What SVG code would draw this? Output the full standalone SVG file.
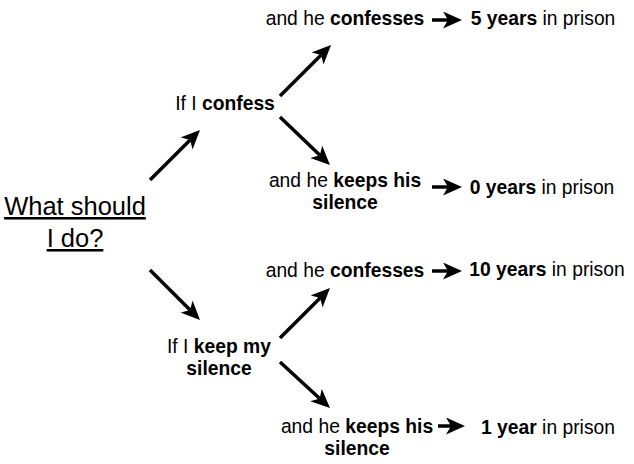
<svg xmlns="http://www.w3.org/2000/svg" width="634" height="464" viewBox="0 0 634 464">
<defs>
<marker id="ah" viewBox="0 0 19 17" refX="5" refY="8.5" markerWidth="19" markerHeight="17" markerUnits="userSpaceOnUse" orient="auto">
<path d="M0,0 L19,8.5 L0,17 L5,8.5 Z" fill="#000"/>
</marker>
</defs>
<style>
text{font-family:"Liberation Sans",Arial,Helvetica,sans-serif;font-size:19.3px;fill:#000;text-anchor:middle}
.b{font-weight:bold}
.big{font-size:25.5px;text-decoration:underline}
.c line{stroke:#000;stroke-width:3.5;marker-end:url(#ah)}
</style>
<rect width="634" height="464" fill="#fff"/>
<g class="c" id="connectors">
<line x1="150" y1="180" x2="190.1" y2="139.9"/>
<line x1="150" y1="270" x2="190.1" y2="310.1"/>
<line x1="280" y1="96" x2="321.1" y2="54.9"/>
<line x1="280" y1="117" x2="319.9" y2="155.3"/>
<line x1="280" y1="338" x2="320.1" y2="297.9"/>
<line x1="280" y1="362" x2="319.7" y2="398.5"/>
<line x1="432" y1="20" x2="448" y2="20"/>
<line x1="432" y1="187" x2="448" y2="187"/>
<line x1="432" y1="271" x2="448" y2="271"/>
<line x1="438" y1="426" x2="451" y2="426"/>
</g>
<g id="root"><text class="big" x="75" y="215">What should</text><text class="big" x="75" y="247">I do?</text></g>
<g id="confess"><text x="225" y="110">If I <tspan class="b">confess</tspan></text></g>
<g id="silence"><text x="219" y="353">If I <tspan class="b">keep my</tspan></text><text class="b" x="219" y="375">silence</text></g>
<g id="cc"><text x="345" y="25">and he <tspan class="b">confesses</tspan></text></g>
<g id="cs"><text x="345" y="187">and he <tspan class="b">keeps his</tspan></text><text class="b" x="345" y="209">silence</text></g>
<g id="sc"><text x="345" y="277">and he <tspan class="b">confesses</tspan></text></g>
<g id="ss"><text x="357" y="433">and he <tspan class="b">keeps his</tspan></text><text class="b" x="357" y="455">silence</text></g>
<g id="r1"><text x="543" y="25"><tspan class="b">5 years</tspan> in prison</text></g>
<g id="r2"><text x="542" y="194"><tspan class="b">0 years</tspan> in prison</text></g>
<g id="r3"><text x="547" y="276"><tspan class="b">10 years</tspan> in prison</text></g>
<g id="r4"><text x="548" y="434"><tspan class="b">1 year</tspan> in prison</text></g>
</svg>
